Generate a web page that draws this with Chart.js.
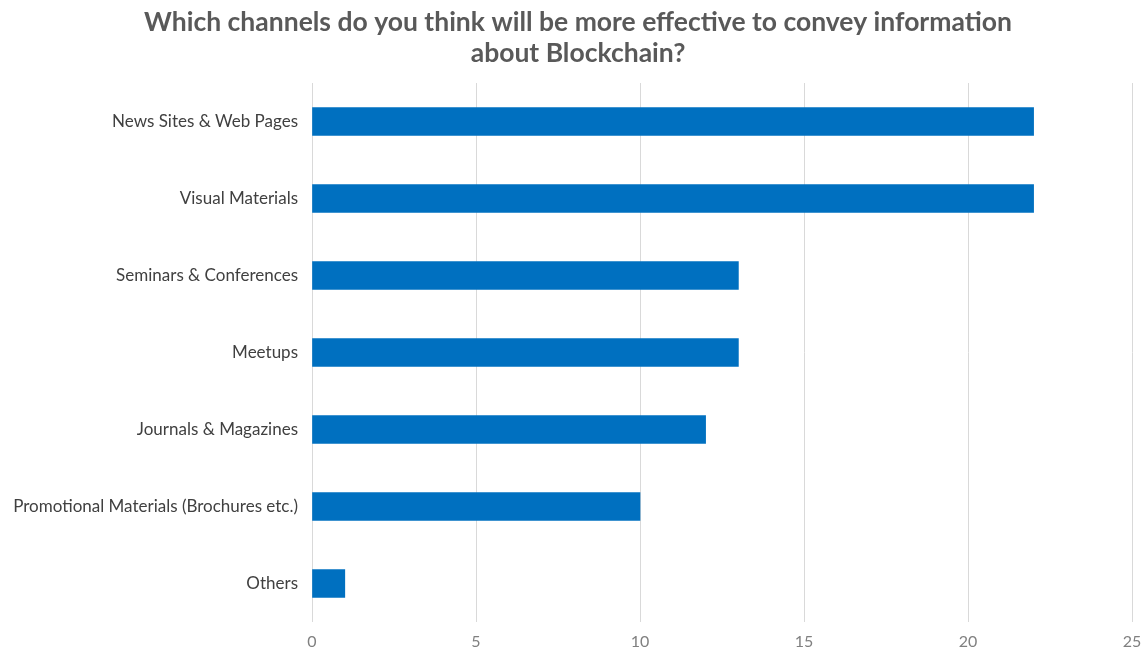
<!DOCTYPE html>
<html>
<head>
<meta charset="utf-8">
<script src="https://cdn.jsdelivr.net/npm/chart.js@4.4.1/dist/chart.umd.min.js"></script>
<style>
  html, body { margin: 0; padding: 0; background: #ffffff; }
  #wrap { width: 1147px; height: 650px; position: relative; }
</style>
</head>
<body>
<div id="wrap"><canvas id="chart"></canvas></div>
<script>
// Survey answers: number of respondents per channel
const channels = [
  'News Sites & Web Pages',
  'Visual Materials',
  'Seminars & Conferences',
  'Meetups',
  'Journals & Magazines',
  'Promotional Materials (Brochures etc.)',
  'Others'
];
const responses = [22, 22, 13, 13, 12, 10, 1];
const axisTicks = [0, 5, 10, 15, 20, 25];
const titleLines = [
  'Which channels do you think will be more effective to convey information',
  'about Blockchain?'
];

const FONT = 'Lato, "Open Sans", sans-serif';

// Centre the title a little right of the canvas middle
const titleOffset = {
  id: 'titleOffset',
  afterLayout(chart) {
    if (chart.titleBlock) chart.titleBlock.left = 24;
  }
};

new Chart(document.getElementById('chart'), {
  type: 'bar',
  data: {
    labels: channels,
    datasets: [{
      data: responses,
      backgroundColor: '#0070C0',
      borderWidth: 0,
      barThickness: 28
    }]
  },
  plugins: [titleOffset],
  options: {
    indexAxis: 'y',
    responsive: true,
    maintainAspectRatio: false,
    animation: false,
    layout: { padding: { left: 0, right: 15, top: 0, bottom: 0 } },
    plugins: {
      legend: { display: false },
      tooltip: { enabled: false },
      title: {
        display: true,
        text: titleLines,
        color: '#595959',
        font: { family: FONT, size: 26.5, weight: 'bold', lineHeight: 1.17 },
        padding: { top: 6.5, bottom: 14.5 }
      }
    },
    scales: {
      x: {
        min: axisTicks[0],
        max: axisTicks[axisTicks.length - 1],
        afterBuildTicks: (axis) => { axis.ticks = axisTicks.map(v => ({ value: v })); },
        grid: { color: '#d9d9d9', lineWidth: 1, drawTicks: false },
        border: { display: false },
        ticks: { color: '#808080', padding: 10, font: { family: FONT, size: 16 } },
        afterFit: (axis) => { axis.height = 28; axis.paddingLeft = 0; axis.paddingRight = 0; }
      },
      y: {
        grid: { display: false, drawTicks: false },
        border: { display: false },
        ticks: { color: '#404040', padding: 14, font: { family: FONT, size: 17 } },
        afterFit: (axis) => { axis.width = 312; }
      }
    }
  }
});
</script>
</body>
</html>
